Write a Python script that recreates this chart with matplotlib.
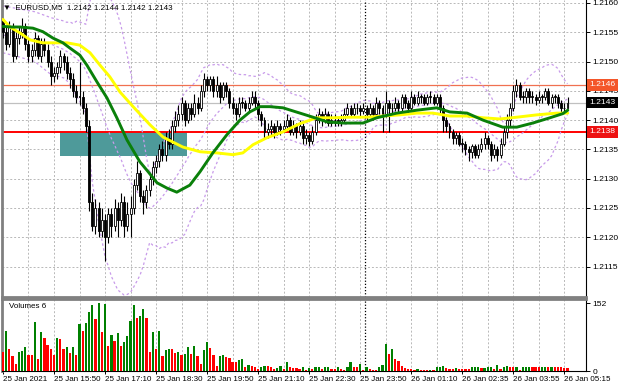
import matplotlib
matplotlib.use("Agg")
import matplotlib.pyplot as plt
import matplotlib.transforms as mtrans
from matplotlib.patches import Rectangle
import numpy as np

plt.rcParams['font.family'] = ['Liberation Sans', 'DejaVu Sans']

# ---------------- data (prices in pips above 1.2100) ----------------
base = 1.2100
first_open = 57
closes = [55, 53, 56, 51, 54, 55, 56, 53, 51, 52, 54, 51, 53, 52, 50, 47.5, 48, 49, 51, 50,
          48, 47, 45, 44, 44, 42, 39, 26, 22, 25, 21, 23, 20, 24, 22, 25, 23, 26, 22, 24,
          25, 29, 31, 27, 26, 28, 30, 32, 33, 35, 34, 37, 36, 39, 40, 41, 43, 40, 42, 41,
          43, 42, 45, 47, 46, 47, 45, 46, 44, 46, 45, 43, 42, 41, 43, 43, 42, 43, 44, 43,
          41, 40, 38, 38.5, 39, 38, 39, 38.5, 39, 40, 38, 39, 38, 39, 37, 37.5, 36.5, 38, 40, 41,
          40, 41, 39.5, 40, 40, 39.5, 40, 41, 42, 41, 42, 42, 41.5, 42, 41, 42, 41, 43, 42, 41,
          43, 42, 42, 43, 42, 44, 43, 42, 44, 43, 44, 44, 43, 44, 44, 43, 44, 42, 40, 39,
          38, 37, 37.5, 36, 36, 35, 34.5, 35.5, 34, 35, 36, 37, 36, 34, 35, 34, 36, 38, 40, 42,
          45, 46, 44, 44, 45, 44, 44, 43.5, 44, 44, 45, 43, 44, 44, 43, 42, 42, 43]
highs = [57.5, 56, 57, 56.5, 55, 56, 57.5, 56.5, 54, 53, 55, 54.5, 54, 54, 53, 51, 49, 50, 52, 51.5,
         51, 49, 48, 46, 50, 45, 43, 40, 27.5, 26.5, 26, 25, 24, 25, 25, 26.5, 26, 27.5, 27, 26,
         27, 30, 33, 31.5, 28, 29, 31, 33, 34, 36, 36.5, 38, 38.5, 40, 41.5, 42.5, 44, 43.5, 43, 43,
         44.5, 44, 46, 48, 47.5, 47.5, 47.5, 47.5, 46.5, 46.5, 46.5, 45.5, 44, 43, 44, 44, 43.5, 44, 45, 45,
         43.5, 41.5, 40.5, 39.5, 40, 39.5, 40, 39.5, 40, 41, 40.5, 40, 39.5, 40, 39.5, 38.5, 38, 39, 41, 42,
         41.5, 42, 41.5, 41, 41, 40.5, 41, 42, 43, 42.5, 43, 43, 42.5, 43, 42.5, 43, 42.5, 44, 43.5, 42.5,
         45, 43.5, 43, 44, 43.5, 44.5, 44.5, 43.5, 45, 44.5, 45, 44.5, 44.5, 44.5, 45, 44.5, 44.5, 44.5, 42.5, 40.5,
         39.5, 38.5, 38, 38, 37, 36.5, 35.5, 36, 36, 36, 37, 38, 37.5, 36.5, 36, 35.5, 37, 39, 41, 43,
         46, 47, 46.5, 45, 45.5, 45.5, 45, 44.5, 45, 44.5, 45.5, 45.5, 44.5, 44.5, 44.5, 43.5, 43, 44]
lows = [54, 52, 52.5, 50, 50.5, 53, 54, 52, 50, 50, 51, 50.5, 50, 51, 49, 46, 46.5, 47, 48, 48.5,
        47, 45.5, 44, 43, 42.5, 41, 38, 24.5, 21, 20.5, 20, 20, 16, 19, 20, 21, 20, 22, 20, 21,
        20, 24, 28, 26, 24, 25, 27, 29, 31, 32, 33, 33, 35, 35, 38, 39, 40, 39, 39.5, 40,
        40.5, 41, 41.5, 44, 45, 45, 44, 44, 43, 43.5, 44, 42, 41, 40, 40.5, 42, 41.5, 41.5, 42.5, 42,
        40, 39, 37, 37, 37.5, 37, 37.5, 37.5, 38, 38.5, 37.5, 37.5, 37, 37.5, 36, 36, 35.5, 36, 37.5, 39.5,
        39, 39.5, 39, 39, 39, 39, 39, 39.5, 40.5, 40.5, 40.5, 41, 40.5, 41, 40, 40.5, 40, 40.5, 41, 38,
        40.5, 38, 41, 41.5, 41, 41.5, 42, 41, 41.5, 42.5, 42.5, 43, 42.5, 42.5, 43, 42.5, 42.5, 41, 38, 38,
        37, 36, 36, 35.5, 34.5, 34, 33, 33.5, 33.5, 33.5, 34.5, 35, 35, 33, 33.5, 33, 33.5, 35.5, 37, 39,
        41.5, 44, 43.5, 43, 43, 43, 43, 42.5, 43, 43, 43.5, 42.5, 42, 43, 42, 41, 41.5, 42]
volumes = [43, 89, 49, 33, 15, 43, 44, 53, 35, 35, 110, 28, 88, 75, 59, 50, 36, 75, 73, 49,
           55, 40, 53, 37, 106, 91, 108, 133, 148, 118, 152, 87, 150, 56, 82, 68, 86, 56, 66, 79,
           113, 149, 120, 123, 139, 119, 42, 88, 49, 90, 33, 47, 49, 49, 40, 43, 37, 38, 55, 39,
           56, 34, 15, 47, 66, 52, 36, 12, 34, 35, 31, 30, 21, 20, 24, 27, 9, 14, 12, 9,
           5, 8, 12, 11, 8, 5, 7, 11, 4, 20, 8, 7, 6, 5, 8, 3, 6,
           5, 9, 10, 5, 9, 10, 5, 4, 8, 4, 3, 8, 20, 9, 8, 15, 2, 8, 4, 3,
           2, 8, 14, 61, 38, 50, 27, 22, 11, 6, 5, 4, 3, 5, 3, 2.5, 2, 3, 2, 9,
           10, 11, 6, 4, 3.5, 6, 5, 4.5, 4, 3.5, 8, 9, 10, 6, 7, 8, 10, 5, 13, 5,
           8, 11, 10, 9, 10, 3, 8, 9, 10, 9.5, 9, 8.5, 9, 10, 9, 10, 9.5, 9, 8, 7, 6]

# moving averages (bar index, pips)
green_x = [0, 2.8, 5.3, 9.4, 12.5, 15.7, 18.8, 21, 24.1, 26.3, 29.5, 32.6, 35.7, 38.9, 42.9, 45.5,
           48.3, 51.4, 54.5, 58.6, 61.8, 65.8, 70.2, 74.3, 77.4, 80.6, 83.7, 87.8, 93.1, 97.2,
           101.6, 106.6, 112.9, 117.2, 123.5, 129.8, 136, 140.1, 145.5, 150.5, 156.7, 161.1,
           166.1, 171.5, 175.5, 177.1]
green_y = [56, 55.9, 55.9, 55.7, 55.1, 54.0, 53.2, 52.3, 51.1, 49.4, 46.5, 43.8, 40.4, 36.6, 32.9,
           31.2, 29.3, 28.4, 27.7, 28.9, 31.2, 34.4, 37.5, 40.0, 41.4, 42.3, 42.3, 42.1, 41.2, 40.5,
           39.7, 39.5, 39.5, 40.4, 41.2, 41.7, 42.1, 41.4, 41.2, 40.0, 38.8, 38.8, 39.5, 40.4, 41.1, 41.7]
yellow_x = [0, 2.2, 5.3, 8.5, 12.5, 16.9, 20.1, 24.1, 27.3, 30.4, 33.5, 36.7, 40.8, 46.1, 50.2,
            56.4, 61.8, 67.1, 72.1, 75.2, 78.4, 82.8, 87.8, 93.1, 98.4, 103.4, 108.8, 114.1,
            119.1, 124.5, 129.8, 134.8, 140.1, 145.5, 150.5, 155.8, 161.1, 167.4, 173.7, 177.1]
yellow_y = [57.2, 55.9, 54.9, 53.7, 53.2, 53.2, 53.2, 52.8, 51.5, 49.4, 47.4, 44.8, 42.3, 39.2, 37.1,
            35.4, 34.6, 34.4, 34.1, 34.4, 35.8, 37.0, 38.0, 39.4, 40.4, 40.4, 40.5, 40.5, 40.7,
            40.9, 41.2, 41.2, 40.7, 40.7, 40.4, 40.2, 40.5, 40.9, 41.2, 41.2]

# Bollinger band values read for the first bars (before 20 closes are on screen)
early_band_x = [0, 5, 10, 15]
early_upper = [59.5, 59, 58.5, 57.5]
early_middle = [54.5, 54.2, 53.8, 53.0]
early_lower = [51.5, 50.8, 50, 47.8]

level_hi = 1.2146
level_bid = 1.2143
level_support = 1.2138
zone_bars = (17.9, 57.7)
zone_prices = (1.21339, 1.21380)
day_sep_bar = 113.5

price_ticks = [1.2115, 1.2120, 1.2125, 1.2130, 1.2135, 1.2140, 1.2145, 1.2150, 1.2155, 1.2160]
time_bars = [0, 16, 32, 48, 64, 80, 96, 112, 128, 144, 160, 176]
time_labels = ['25 Jan 2021', '25 Jan 15:50', '25 Jan 17:10', '25 Jan 18:30', '25 Jan 19:50',
               '25 Jan 21:10', '25 Jan 22:30', '25 Jan 23:50', '26 Jan 01:10', '26 Jan 02:35',
               '26 Jan 03:55', '26 Jan 05:15']
header = '▼  EURUSD,M5  1.2142 1.2144 1.2142 1.2143'

# ---------------- figure ----------------
W, H = 620, 388
fig = plt.figure(figsize=(W / 100, H / 100), dpi=100)
fig.patch.set_facecolor('white')
ax = fig.add_axes([2 / W, 1 - 297 / H, 584 / W, 297 / H])
axv = fig.add_axes([2 / W, 1 - 371 / H, 584 / W, 72 / H])

n = len(closes)
x = np.arange(n)
c = base + np.array(closes) / 1e4
o = np.concatenate([[base + first_open / 1e4], c[:-1]])
hi = base + np.array(highs) / 1e4
lo = base + np.array(lows) / 1e4

xl = (-0.3, 182.8)
grid_kw = dict(color='#b8b8b8', lw=0.7, ls=(0, (2, 2)), zorder=0)

for p in price_ticks:
    ax.axhline(p, **grid_kw)
for b in range(8, 183, 8):
    ax.axvline(b, **grid_kw)
    axv.axvline(b, **grid_kw)

ax.add_patch(Rectangle((zone_bars[0], zone_prices[0]), zone_bars[1] - zone_bars[0],
                       zone_prices[1] - zone_prices[0], fc='#4e9a9a', ec='none', zorder=1))

ax.axhline(level_bid, color='#c0c0c0', lw=0.9, zorder=1.5)
ax.axhline(level_hi, color='#f07050', lw=0.9, zorder=1.5)
ax.axhline(level_support, color='#ff0000', lw=1.4, zorder=1.5)

# Bollinger bands (20, 2) from closes, preceded by the values read for the first bars
cs = np.array(closes)
bx = list(early_band_x)
up = list(early_upper); md = list(early_middle); dn = list(early_lower)
for i in range(19, n):
    w = cs[i - 19:i + 1]
    m = w.mean(); s = w.std()
    bx.append(i); md.append(m); up.append(m + 2 * s); dn.append(m - 2 * s)
band_kw = dict(color='#c89bea', lw=0.9, ls=(0, (2, 2)), zorder=2)
for arr in (md, up, dn):
    ax.plot(bx, base + np.array(arr) / 1e4, **band_kw)

body_w = 0.62
for i in range(n):
    ax.vlines(x[i], lo[i], hi[i], color='black', lw=0.8, zorder=3)
    b0, b1 = min(o[i], c[i]), max(o[i], c[i])
    h = max(b1 - b0, 0.000004)
    fc = 'white' if c[i] > o[i] else 'black'
    ax.add_patch(Rectangle((x[i] - body_w / 2, b0), body_w, h, fc=fc, ec='black', lw=0.6, zorder=3.2))

ax.plot(green_x, base + np.array(green_y) / 1e4, color='#0a800a', lw=2.1, zorder=4, solid_capstyle='round')
ax.plot(yellow_x, base + np.array(yellow_y) / 1e4, color='#ffff00', lw=2.1, zorder=3.9, solid_capstyle='round')

ax.axvline(day_sep_bar, color='black', lw=0.9, ls=(0, (1, 1.5)), zorder=2)
axv.axvline(day_sep_bar, color='black', lw=0.9, ls=(0, (1, 1.5)), zorder=2)

ax.set_xlim(*xl)
ax.set_ylim(1.21098, 1.216051)
ax.yaxis.tick_right()
ax.set_yticks(price_ticks)
ax.set_yticklabels(['%.4f' % p for p in price_ticks])
ax.tick_params(axis='y', length=3, width=0.7, pad=1.5, labelsize=6.1, colors='black')
ax.set_xticks([])
ax.spines['top'].set_visible(False)
ax.spines['left'].set_color('#808080'); ax.spines['left'].set_linewidth(2)
ax.spines['bottom'].set_color('#808080'); ax.spines['bottom'].set_linewidth(2)
ax.spines['right'].set_color('black'); ax.spines['right'].set_linewidth(0.8)

tr = mtrans.blended_transform_factory(ax.transAxes, ax.transData)
for val, col in ((level_hi, '#f4562a'), (level_bid, 'black'), (level_support, '#ee1111')):
    ax.text(1.0055, val, '%.4f' % val, transform=tr, ha='left', va='center', fontsize=6.1,
            color='white', zorder=10, clip_on=False,
            bbox=dict(boxstyle='square,pad=0.28', fc=col, ec='none'))

fig.text(3 / W, 1 - 8 / H, header, fontsize=5.8, va='center', ha='left', color='black')

vcols = []
for i, v in enumerate(volumes):
    if i == 0:
        vcols.append('#ff0000')
    else:
        vcols.append('#008000' if v > volumes[i - 1] else '#ff0000')
axv.bar(x, volumes, width=0.7, color=vcols, zorder=3)
axv.set_xlim(*xl)
axv.set_ylim(0, 162)
axv.yaxis.tick_right()
axv.set_yticks([0, 152])
axv.set_yticklabels(['0', '152'])
axv.tick_params(axis='y', length=3, width=0.7, pad=1.5, labelsize=6.1)
axv.set_xticks(time_bars)
axv.set_xticklabels(time_labels, ha='left')
axv.tick_params(axis='x', length=2, width=0.7, pad=1.5, labelsize=5.8)
axv.spines['top'].set_color('#808080'); axv.spines['top'].set_linewidth(2)
axv.spines['left'].set_color('#808080'); axv.spines['left'].set_linewidth(2)
axv.spines['right'].set_linewidth(0.8)
axv.spines['bottom'].set_linewidth(0.8)
axv.text(7 / 584, 1 - 7 / 72, 'Volumes 6', transform=axv.transAxes, fontsize=5.8, va='center', ha='left')

fig.savefig('out.png', dpi=100)
